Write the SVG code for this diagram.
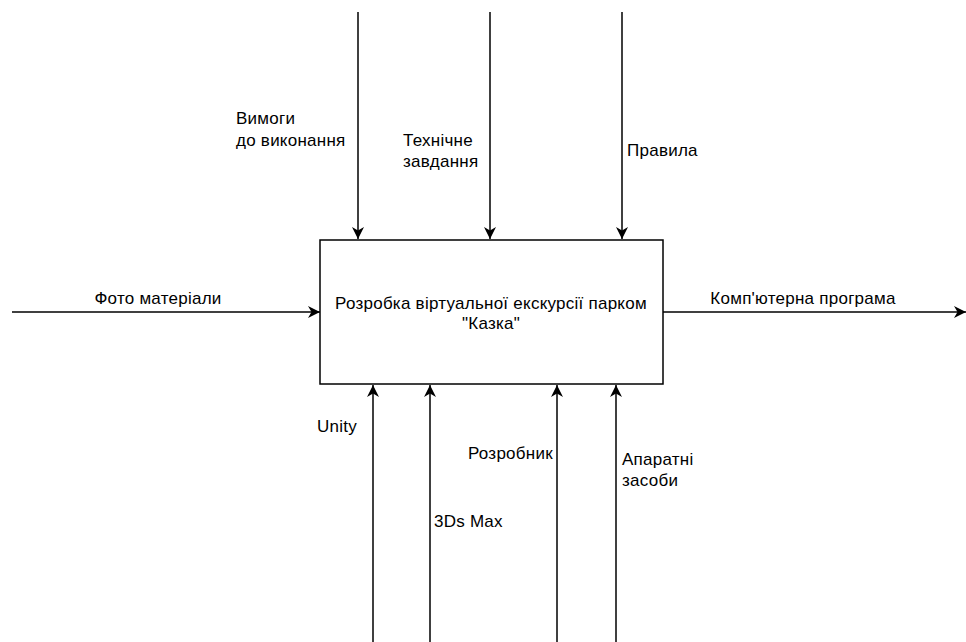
<svg xmlns="http://www.w3.org/2000/svg" width="966" height="642" viewBox="0 0 966 642">
<defs>
<marker id="arr" markerUnits="userSpaceOnUse" markerWidth="14" markerHeight="12" refX="12" refY="6" orient="auto">
<path d="M0,0 L12,6 L0,12 L3.5,6 Z" fill="#000"/>
</marker>
</defs>
<style>
text{font-family:"Liberation Sans",Arial,sans-serif;font-size:17px;letter-spacing:0.25px;fill:#000}
.c{stroke:#000;stroke-width:1.5;fill:none}
</style>
<rect width="966" height="642" fill="#fff"/>
<g id="connectors">
<line class="c" x1="358" y1="12" x2="358" y2="239" marker-end="url(#arr)"/>
<line class="c" x1="490" y1="12" x2="490" y2="239" marker-end="url(#arr)"/>
<line class="c" x1="622" y1="12" x2="622" y2="239" marker-end="url(#arr)"/>
<line class="c" x1="12" y1="312" x2="320" y2="312" marker-end="url(#arr)"/>
<line class="c" x1="663" y1="312" x2="966" y2="312" marker-end="url(#arr)"/>
<line class="c" x1="373" y1="642" x2="373" y2="385" marker-end="url(#arr)"/>
<line class="c" x1="430" y1="642" x2="430" y2="385" marker-end="url(#arr)"/>
<line class="c" x1="557" y1="642" x2="557" y2="385" marker-end="url(#arr)"/>
<line class="c" x1="616" y1="642" x2="616" y2="385" marker-end="url(#arr)"/>
<text x="236" y="124">Вимоги</text>
<text x="236" y="146">до виконання</text>
<text x="403" y="146">Технічне</text>
<text x="403" y="167">завдання</text>
<text x="627" y="156">Правила</text>
<text x="158" y="304" text-anchor="middle">Фото матеріали</text>
<text x="803" y="304" text-anchor="middle">Комп'ютерна програма</text>
<text x="317" y="432">Unity</text>
<text x="434" y="527">3Ds Max</text>
<text x="468" y="459">Розробник</text>
<text x="622" y="465">Апаратні</text>
<text x="622" y="486">засоби</text>
</g>
<g id="node-main">
<rect x="320" y="240" width="343" height="144" fill="#fff" stroke="#000" stroke-width="1.5"/>
<text x="491" y="309" text-anchor="middle">Розробка віртуальної екскурсії парком</text>
<text x="491" y="329" text-anchor="middle">"Казка"</text>
</g>
</svg>
